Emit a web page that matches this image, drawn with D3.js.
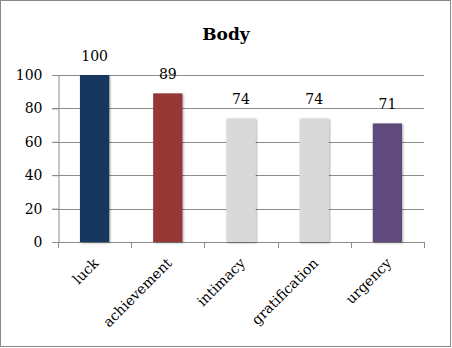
<!DOCTYPE html>
<html>
<head>
<meta charset="utf-8">
<script src="https://cdn.jsdelivr.net/npm/d3@7"></script>
<style>
  body { margin: 0; background: #fff; }
  text { font-family: "DejaVu Serif", serif; fill: #000; }
</style>
</head>
<body>
<svg id="chart" width="452" height="348"></svg>
<script>
var categories = ["luck", "achievement", "intimacy", "gratification", "urgency"];
var values = [100, 89, 74, 74, 71];
var barColors = ["#17375e", "#953735", "#d9d9d9", "#d9d9d9", "#604a7b"];
var yTicks = [0, 20, 40, 60, 80, 100];

var svg = d3.select("#chart");
var margin = { left: 58, right: 28, top: 75, bottom: 106 };
var W = 452, H = 348;

// outer frame
svg.append("rect")
	.attr("x", 0.5).attr("y", 0.5)
	.attr("width", W - 2).attr("height", H - 2)
	.attr("fill", "#fff")
	.attr("stroke", "#888");

var x = d3.scaleBand()
	.domain(categories)
	.range([margin.left, W - margin.right])
	.paddingInner(0.6)
	.paddingOuter(0.3);

var y = d3.scaleLinear()
	.domain([0, 100])
	.range([H - margin.bottom, margin.top]);

// shadow for bars
var defs = svg.append("defs");
var f = defs.append("filter").attr("id", "shadow").attr("x", "-20%").attr("y", "-5%").attr("width", "140%").attr("height", "110%");
f.append("feGaussianBlur").attr("in", "SourceAlpha").attr("stdDeviation", 1);
f.append("feOffset").attr("dx", 0.5).attr("dy", 0.5).attr("result", "b");
f.append("feComponentTransfer").append("feFuncA").attr("type", "linear").attr("slope", 0.35);
var m = f.append("feMerge");
m.append("feMergeNode");
m.append("feMergeNode").attr("in", "SourceGraphic");

// gridlines
svg.append("g")
	.selectAll("line")
	.data(yTicks)
	.join("line")
	.attr("x1", margin.left - 6)
	.attr("x2", W - margin.right)
	.attr("y1", function(d) { return Math.round(y(d)) + 0.5; })
	.attr("y2", function(d) { return Math.round(y(d)) + 0.5; })
	.attr("stroke", "#8c8c8c")
	.attr("stroke-width", 1);

// y axis
var yAxis = svg.append("g")
	.attr("transform", "translate(" + (margin.left + 0.5) + ",0)")
	.call(d3.axisLeft(y).tickValues(yTicks).tickSize(6).tickPadding(10));
yAxis.select(".domain").attr("stroke", "#8c8c8c");
yAxis.selectAll(".tick line").attr("stroke", "#8c8c8c");
yAxis.selectAll("text").attr("font-size", 14).attr("font-family", "DejaVu Serif").attr("fill", "#000");

// x axis ticks at band boundaries
var edges = d3.range(categories.length + 1).map(function(i) {
	return margin.left + i * (W - margin.right - margin.left) / categories.length;
});
svg.append("g")
	.selectAll("line")
	.data(edges)
	.join("line")
	.attr("x1", function(d) { return Math.round(d) + 0.5; })
	.attr("x2", function(d) { return Math.round(d) + 0.5; })
	.attr("y1", y(0))
	.attr("y2", y(0) + 6)
	.attr("stroke", "#8c8c8c");

// bars
svg.append("g")
	.selectAll("rect")
	.data(categories)
	.join("rect")
	.attr("x", function(d) { return x(d); })
	.attr("y", function(d, i) { return y(values[i]); })
	.attr("width", x.bandwidth())
	.attr("height", function(d, i) { return y(0) - y(values[i]); })
	.attr("fill", function(d, i) { return barColors[i]; })
	.attr("filter", "url(#shadow)");

// value labels
svg.append("g")
	.selectAll("text")
	.data(categories)
	.join("text")
	.attr("x", function(d) { return x(d) + x.bandwidth() / 2; })
	.attr("y", function(d, i) { return y(values[i]) - 14; })
	.attr("text-anchor", "middle")
	.attr("font-size", 14)
	.text(function(d, i) { return values[i]; });

// category labels
svg.append("g")
	.selectAll("text")
	.data(categories)
	.join("text")
	.attr("text-anchor", "end")
	.attr("font-size", 14)
	.attr("transform", function(d) {
		return "translate(" + (x(d) + x.bandwidth() / 2 + 5) + "," + (y(0) + 22) + ") rotate(-45)";
	})
	.text(function(d) { return d; });

// title
svg.append("text")
	.attr("x", 226)
	.attr("y", 40)
	.attr("text-anchor", "middle")
	.attr("font-size", 17)
	.attr("font-weight", "bold")
	.text("Body");
</script>
</body>
</html>
